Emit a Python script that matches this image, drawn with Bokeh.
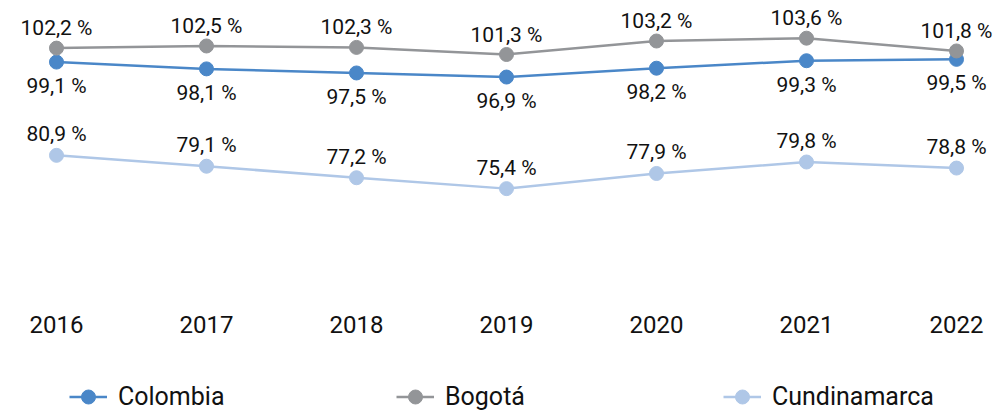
from bokeh.plotting import figure
from bokeh.layouts import column
from bokeh.models import Range1d, Legend, LegendItem, ColumnDataSource, FixedTicker
from bokeh.core.properties import value
from bokeh.embed import file_html
from bokeh.resources import INLINE

years = [2016, 2017, 2018, 2019, 2020, 2021, 2022]
colombia = [99.1, 98.1, 97.5, 96.9, 98.2, 99.3, 99.5]
bogota = [102.2, 102.5, 102.3, 101.3, 103.2, 103.6, 101.8]
cundinamarca = [80.9, 79.1, 77.2, 75.4, 77.9, 79.8, 78.8]
names = ["Colombia", "Bogotá", "Cundinamarca"]

def fmt(v):
    return f"{v:.1f}".replace(".", ",") + " %"

FONT = "Roboto"
C_COL = "#4A87C8"
C_BOG = "#939598"
C_CUN = "#AFC7E7"

p = figure(width=998, height=348, output_backend="svg",
           toolbar_location=None, x_range=Range1d(2015.68, 2022.28),
           y_range=Range1d(64.04, 106.98),
           min_border_left=8, min_border_right=0, min_border_top=8,
           min_border_bottom=48)
p.extra_y_ranges = {"bog": Range1d(66.65, 107.78), "cun": Range1d(56.91, 105.17)}
p.outline_line_color = None
p.grid.visible = False
p.yaxis.visible = False
p.background_fill_color = "white"
p.border_fill_color = "white"

xa = p.xaxis[0]
xa.ticker = FixedTicker(ticks=years)
xa.axis_line_color = None
xa.major_tick_line_color = None
xa.minor_tick_line_color = None
xa.major_label_text_font = FONT
xa.major_label_text_font_size = "24px"
xa.major_label_text_color = "#111111"
xa.major_label_standoff = 9

series = [
    (colombia, C_COL, "default", 24),
    (bogota, C_BOG, "bog", -20),
    (cundinamarca, C_CUN, "cun", -21),
]
for vals, col, rng, off in series:
    src = ColumnDataSource(dict(x=years, y=vals, lab=[fmt(v) for v in vals]))
    kw = {} if rng == "default" else {"y_range_name": rng}
    p.line("x", "y", source=src, line_color=col, line_width=2.5, **kw)
    p.scatter("x", "y", source=src, size=14, fill_color=col, line_color=col, **kw)
    p.text("x", "y", text="lab", source=src, y_offset=off, text_align="center",
           text_baseline="middle", text_font=value(FONT), text_font_size="21px",
           text_color="#111111", **kw)

# legend strip (its proxy renderers lie outside the strip's visible range)
q = figure(width=998, height=66, output_backend="svg", toolbar_location=None,
           x_range=Range1d(0, 1), y_range=Range1d(0, 1),
           x_axis_location=None, y_axis_location=None,
           min_border_left=0, min_border_right=0, min_border_top=0,
           min_border_bottom=0)
q.outline_line_color = None
q.grid.visible = False
q.background_fill_color = "white"
q.border_fill_color = "white"

items = []
for name, (vals, col, rng, off) in zip(names, series):
    proxy = ColumnDataSource(dict(x=years[:1], y=vals[:1]))
    lr = q.line("x", "y", source=proxy, line_color=col, line_width=2.5)
    sr = q.scatter("x", "y", source=proxy, size=14, fill_color=col, line_color=col)
    items.append(LegendItem(label=name, renderers=[lr, sr]))

leg = Legend(items=items, orientation="horizontal", location=(61, 0),
             label_text_font=FONT, label_text_font_size="25px",
             label_text_color="#111111", glyph_width=38, glyph_height=35,
             label_standoff=11, label_width=258, spacing=20, padding=0,
             margin=0, border_line_color=None, background_fill_alpha=0)
q.add_layout(leg, "center")

layout = column(p, q, spacing=0)
open("out.html", "w").write(file_html(layout, INLINE))
